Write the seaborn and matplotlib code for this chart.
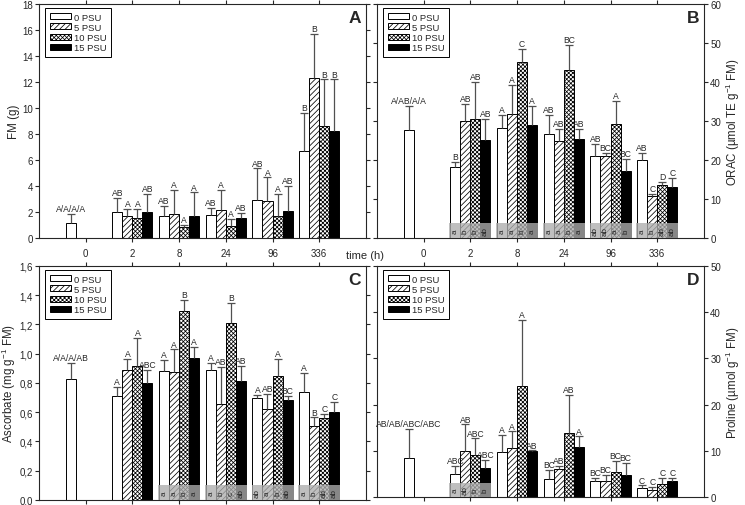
import numpy as np
import pandas as pd
import matplotlib
matplotlib.use('Agg')
import matplotlib.pyplot as plt
import matplotlib.ticker as mticker
from matplotlib.container import BarContainer
import seaborn as sns

nan = np.nan

# sampling times (h) and salinity treatments
times = ['0', '2', '8', '24', '96', '336']
levels = ['0 PSU', '5 PSU', '10 PSU', '15 PSU']

# A - fresh mass (g): means, sd and significance letters per treatment
fm_mean = [[1.15, 1.97, 1.66, 1.77, 2.92, 6.66],
           [nan, 1.66, 1.84, 2.15, 2.82, 12.29],
           [nan, 1.54, 0.82, 0.92, 1.66, 8.63],
           [nan, 1.97, 1.72, 1.54, 2.10, 8.22]]
fm_sd = [[0.70, 1.10, 0.82, 0.53, 2.43, 2.99],
         [nan, 0.57, 1.85, 1.54, 1.84, 3.38],
         [nan, 0.69, 0.18, 0.54, 1.72, 3.57],
         [nan, 1.41, 1.78, 0.36, 1.92, 3.98]]
fm_sig = [['A/A/A/A', 'AB', 'AB', 'AB', 'AB', 'B'],
          ['', 'A', 'A', 'A', 'A', 'B'],
          ['', 'A', 'A', 'A', 'A', 'B'],
          ['', 'AB', 'A', 'AB', 'AB', 'B']]

# B - ORAC (umol TE / g FM)
orac_mean = [[27.7, 18.1, 28.2, 26.6, 20.9, 20.1],
             [nan, 29.9, 31.9, 24.9, 20.9, 10.7],
             [nan, 30.5, 45.0, 43.0, 29.1, 13.7],
             [nan, 25.0, 28.9, 25.5, 17.1, 13.1]]
orac_sd = [[6.2, 1.3, 3.3, 5.0, 3.3, 1.7],
           [nan, 4.5, 7.4, 3.0, 1.0, 0.7],
           [nan, 9.6, 3.4, 6.4, 6.0, 0.7],
           [nan, 5.6, 5.0, 2.4, 3.1, 2.4]]
orac_sig = [['A/AB/A/A', 'B', 'A', 'AB', 'AB', 'AB'],
            ['', 'AB', 'A', 'AB', 'BC', 'C'],
            ['', 'AB', 'C', 'BC', 'A', 'D'],
            ['', 'AB', 'A', 'AB', 'BC', 'C']]
orac_low = {'2': ['a', 'b', 'b', 'ab'], '8': ['a', 'a', 'b', 'a'],
            '24': ['a', 'a', 'b', 'a'], '96': ['ab', 'ab', 'a', 'b'],
            '336': ['a', 'b', 'ab', 'ab']}

# C - ascorbate (mg / g FM)
asc_mean = [[0.825, 0.711, 0.885, 0.886, 0.700, 0.741],
            [nan, 0.889, 0.875, 0.659, 0.625, 0.509],
            [nan, 0.916, 1.292, 1.208, 0.851, 0.559],
            [nan, 0.798, 0.969, 0.812, 0.684, 0.600]]
asc_sd = [[0.110, 0.062, 0.070, 0.054, 0.016, 0.130],
          [nan, 0.078, 0.155, 0.253, 0.103, 0.056],
          [nan, 0.192, 0.076, 0.142, 0.116, 0.032],
          [nan, 0.091, 0.077, 0.104, 0.030, 0.070]]
asc_sig = [['A/A/A/AB', 'A', 'A', 'A', 'A', 'A'],
           ['', 'A', 'A', 'AB', 'AB', 'B'],
           ['', 'A', 'B', 'B', 'A', 'C'],
           ['', 'ABC', 'A', 'AB', 'BC', 'C']]
asc_low = {'8': ['a', 'a', 'b', 'a'], '24': ['a', 'b', 'c', 'ab'],
           '96': ['ab', 'a', 'b', 'ab'], '336': ['a', 'b', 'ab', 'ab']}

# D - proline (umol / g FM)
pro_mean = [[8.4, 4.96, 9.85, 3.95, 3.37, 2.0],
            [nan, 10.06, 10.57, 6.1, 3.5, 1.44],
            [nan, 9.2, 24.1, 13.8, 5.4, 2.8],
            [nan, 6.26, 10.0, 10.86, 4.8, 3.37]]
pro_sd = [[6.3, 1.8, 3.6, 2.0, 0.73, 0.5],
          [nan, 5.64, 3.63, 0.6, 1.3, 0.76],
          [nan, 3.5, 14.2, 8.3, 2.4, 1.4],
          [nan, 1.74, 0.1, 2.24, 2.5, 0.83]]
pro_sig = [['AB/AB/ABC/ABC', 'ABC', 'A', 'BC', 'BC', 'C'],
           ['', 'AB', 'A', 'AB', 'BC', 'C'],
           ['', 'ABC', 'A', 'AB', 'BC', 'C'],
           ['', 'ABC', 'AB', 'A', 'BC', 'C']]
pro_low = {'2': ['a', 'ab', 'b', 'b']}

colors = ['white', 'white', 'white', 'black']
hatches = ['', '//////', 'xxxxxxxx', '']

sns.set_style('ticks')
plt.rcParams['font.family'] = ['Liberation Sans', 'DejaVu Sans']
plt.rcParams['mathtext.fontset'] = 'custom'
plt.rcParams['mathtext.rm'] = 'Liberation Sans'
plt.rcParams['mathtext.default'] = 'regular'
plt.rcParams['hatch.linewidth'] = 0.55
plt.rcParams['hatch.color'] = '#2a2a2a'


def draw_panel(ax, mean, sd, sig, ymax, ystep, ylabel, tag, side='left',
               low=None, comma=False, show_x=False):
    rows = []
    for lev, m_list in zip(levels, mean):
        for t, m in zip(times, m_list):
            if not np.isnan(m):
                rows.append({'time': t, 'psu': lev, 'value': m})
    df = pd.DataFrame(rows)
    sns.barplot(data=df, x='time', y='value', hue='psu', order=times,
                hue_order=levels, palette=colors, width=0.86, saturation=1,
                edgecolor='black', linewidth=0.7, errorbar=None,
                legend=False, ax=ax)
    bar_conts = [c for c in ax.containers if isinstance(c, BarContainer)]

    centers = {}
    for ci, cont in enumerate(bar_conts):
        xs, ys, es, labs = [], [], [], []
        for bar in cont:
            bar.set_hatch(hatches[ci])
            xc = bar.get_x() + bar.get_width() / 2
            ti = int(round(xc))
            centers[(ci, ti)] = xc
            xs.append(xc)
            ys.append(bar.get_height())
            es.append(sd[ci][ti])
            labs.append(sig[ci][ti])
        ys = np.array(ys)
        es = np.array(es)
        eb = ax.errorbar(xs, ys, yerr=[np.zeros(len(es)), es], fmt='none',
                         ecolor='#505050', elinewidth=0.9, capsize=3.2,
                         capthick=0.9, zorder=3)
        for cl in eb[1]:
            if np.allclose(cl.get_ydata(), ys):
                cl.set_visible(False)
        for x, top, s in zip(xs, ys + es, labs):
            ax.annotate(s, (x, top), xytext=(0, 0.6), textcoords='offset points',
                        ha='center', va='bottom', fontsize=6.2, zorder=5)

    # shaded strip with lowercase letters (differences between times)
    if low:
        band = 0.062
        for t, lets in low.items():
            ti = times.index(t)
            ax.axvspan(ti - 0.45, ti + 0.45, ymin=0, ymax=band,
                       color='#aeaeae', alpha=0.78, lw=0, zorder=4)
            for ci, s in enumerate(lets):
                ax.text(centers[(ci, ti)], band * ymax / 2, s, rotation=90,
                        ha='center', va='center', fontsize=5.8, zorder=5)

    ax.set_xlim(-1, 6)
    ax.set_ylim(0, ymax)
    ax.set_yticks(np.arange(0, ymax + ystep / 2, ystep))
    if comma:
        ax.yaxis.set_major_formatter(
            mticker.FuncFormatter(lambda v, p: f'{v:.1f}'.replace('.', ',')))
    ax.set_xlabel('')
    ax.set_xticks(range(len(times)))
    ax.set_xticklabels(times)
    ax.tick_params(axis='both', labelsize=7, length=3, width=0.8, pad=1.5,
                   direction='out', top=True, bottom=True, left=True, right=True,
                   labeltop=False, labelbottom=show_x)
    ax.tick_params(axis='x', pad=4)
    if side == 'left':
        ax.tick_params(axis='y', labelleft=True, labelright=False)
        ax.set_ylabel(ylabel, fontsize=8.3, labelpad=1)
    else:
        ax.tick_params(axis='y', labelleft=False, labelright=True)
        ax.yaxis.set_label_position('right')
        ax.set_ylabel(ylabel, fontsize=8.3, labelpad=2)
    for sp in ax.spines.values():
        sp.set_visible(True)
        sp.set_linewidth(0.8)

    ax.legend(handles=bar_conts, labels=levels, loc='upper left',
              bbox_to_anchor=(0.018, 0.983), borderaxespad=0, fontsize=6.8,
              fancybox=False, edgecolor='black', framealpha=1,
              handlelength=2.3, handleheight=0.6, handletextpad=0.3,
              labelspacing=0.12, borderpad=0.5)
    ax.get_legend().get_frame().set_linewidth(0.7)
    ax.text(0.985, 0.975, tag, transform=ax.transAxes, ha='right', va='top',
            fontsize=12.5, fontweight='bold')


fig = plt.figure(figsize=(7.45, 5.06), dpi=100)
ax_a = fig.add_axes([0.0523, 0.5277, 0.4389, 0.4625])
ax_b = fig.add_axes([0.5060, 0.5277, 0.4389, 0.4625])
ax_c = fig.add_axes([0.0523, 0.0099, 0.4389, 0.4625])
ax_d = fig.add_axes([0.5060, 0.0158, 0.4389, 0.4565])

draw_panel(ax_a, fm_mean, fm_sd, fm_sig, 18, 2, 'FM (g)', 'A', show_x=True)
draw_panel(ax_b, orac_mean, orac_sd, orac_sig, 60, 10,
           'ORAC (µmol TE g$^{-1}$ FM)', 'B', side='right', low=orac_low,
           show_x=True)
draw_panel(ax_c, asc_mean, asc_sd, asc_sig, 1.6, 0.2,
           'Ascorbate (mg g$^{-1}$ FM)', 'C', low=asc_low, comma=True)
draw_panel(ax_d, pro_mean, pro_sd, pro_sig, 50, 10,
           'Proline (µmol g$^{-1}$ FM)', 'D', side='right', low=pro_low)

fig.text(0.4905, 1 - 256 / 506, 'time (h)', ha='center', va='center', fontsize=8)

fig.savefig('out.png', dpi=100)
